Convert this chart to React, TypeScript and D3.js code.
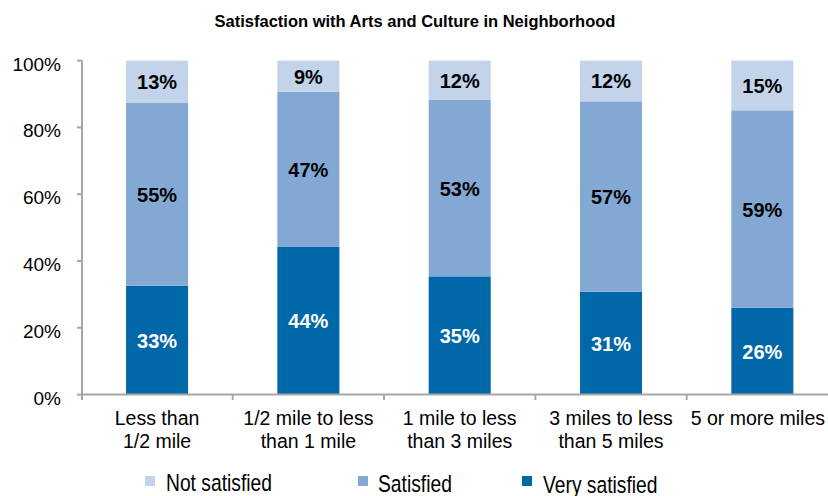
import React from "react";
import * as d3 from "d3";

const categories = [
  ["Less than", "1/2 mile"],
  ["1/2 mile to less", "than 1 mile"],
  ["1 mile to less", "than 3 miles"],
  ["3 miles to less", "than 5 miles"],
  ["5 or more miles"],
];
const verySatisfied = [32.6, 44.2, 35.4, 30.8, 26.0];
const satisfied = [54.7, 46.5, 52.8, 57.0, 59.1];
const notSatisfied = [12.7, 9.3, 11.8, 12.2, 14.9];
const yTicks = [0, 20, 40, 60, 80, 100];
const seriesNames = ["Not satisfied", "Satisfied", "Very satisfied"];
const colors = { vs: "#0067a9", s: "#83a8d4", ns: "#c2d3ea" };

const W = 828;
const H = 496;

export default function App() {
  const keys = categories.map((c) => c.join(" "));
  const x = d3
    .scaleBand<string>()
    .domain(keys)
    .range([81.4, 838])
    .paddingInner(0.59)
    .paddingOuter(0.295);
  const y = d3.scaleLinear().domain([0, 100]).range([394.6, 60.6]);
  const step = x.step();
  const r0 = x.range()[0];

  const font = "'Liberation Sans', Arial, sans-serif";
  const axisColor = "#a6a6a6";

  const rows = keys.map((k, i) => ({
    key: k,
    segs: [
      { v: verySatisfied[i], c: colors.vs, t: "#ffffff" },
      { v: satisfied[i], c: colors.s, t: "#000000" },
      { v: notSatisfied[i], c: colors.ns, t: "#000000" },
    ],
  }));

  const legend = [
    { name: seriesNames[0], c: colors.ns, sx: 145, tx: 166, by: 491 },
    { name: seriesNames[1], c: colors.s, sx: 358, tx: 378, by: 492 },
    { name: seriesNames[2], c: colors.vs, sx: 522, tx: 543, by: 493 },
  ];

  return (
    <svg
      width={W}
      height={H}
      style={{ position: "absolute", left: 0, top: 0 }}
      fontFamily={font}
    >
      <rect width={W} height={H} fill="#ffffff" />
      <text x={415} y={27} textAnchor="middle" fontWeight="bold" fontSize={16.5}>
        Satisfaction with Arts and Culture in Neighborhood
      </text>

      {rows.map((r) => {
        let acc = 0;
        const bx = x(r.key)!;
        const bw = x.bandwidth();
        return (
          <g key={r.key}>
            {r.segs.map((s, j) => {
              const y0 = y(acc);
              const y1 = y(acc + s.v);
              acc += s.v;
              const mid = (y0 + y1) / 2;
              return (
                <g key={j}>
                  <rect x={bx} y={y1} width={bw} height={y0 - y1} fill={s.c} />
                  <text
                    x={bx + bw / 2}
                    y={mid + 7.5}
                    textAnchor="middle"
                    fontWeight="bold"
                    fontSize={20}
                    fill={s.t}
                  >
                    {Math.round(s.v)}%
                  </text>
                </g>
              );
            })}
          </g>
        );
      })}

      {/* Y axis */}
      <line x1={82} x2={82} y1={y(100)} y2={400} stroke={axisColor} strokeWidth={2} />
      {yTicks.map((t) => (
        <g key={t}>
          <line x1={77} x2={82} y1={y(t)} y2={y(t)} stroke={axisColor} strokeWidth={2} />
          <text x={61} y={y(t) + 10} textAnchor="end" fontSize={19} fill="#000">
            {t}%
          </text>
        </g>
      ))}

      {/* X axis */}
      <line x1={82} x2={W} y1={y(0)} y2={y(0)} stroke={axisColor} strokeWidth={2} />
      {keys.slice(1).map((k, i) => {
        const tx = r0 + (i + 1) * step;
        return (
          <line key={k} x1={tx} x2={tx} y1={y(0)} y2={400} stroke={axisColor} strokeWidth={2} />
        );
      })}
      {categories.map((lines, i) => {
        const cx = x(keys[i])! + x.bandwidth() / 2;
        const last = i === categories.length - 1;
        const ax = last ? W - 3 : cx;
        return (
          <text
            key={keys[i]}
            x={ax}
            textAnchor={last ? "end" : "middle"}
            fontSize={19.5}
            fill="#000"
          >
            {lines.map((ln, j) => (
              <tspan key={j} x={ax} y={425 + j * 23}>
                {ln}
              </tspan>
            ))}
          </text>
        );
      })}

      {/* Legend */}
      {legend.map((l) => (
        <g key={l.name}>
          <rect x={l.sx} y={476} width={10} height={10} fill={l.c} />
          <g transform={`translate(${l.tx},${l.by}) scale(0.82,1)`}>
            <text x={0} y={0} fontSize={23.5} fill="#000">
              {l.name}
            </text>
          </g>
        </g>
      ))}
    </svg>
  );
}
